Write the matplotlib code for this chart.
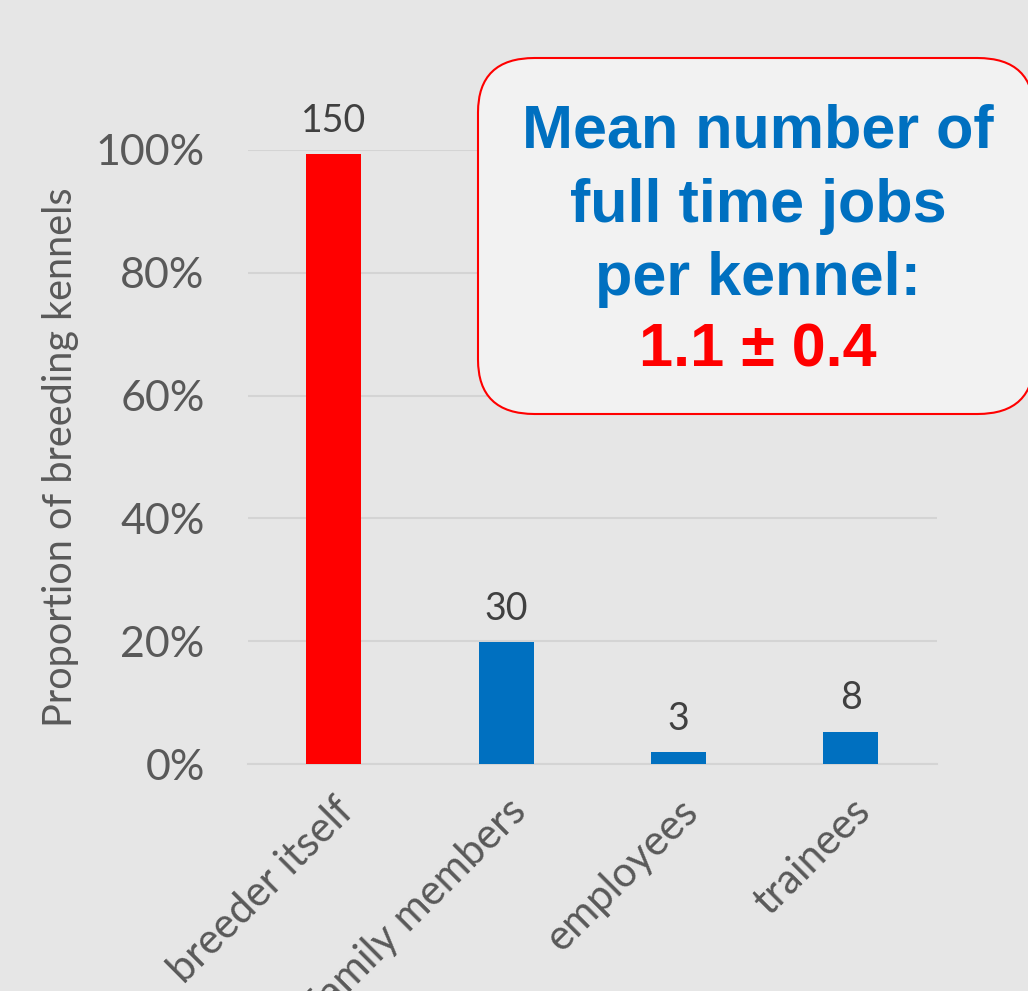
import matplotlib
matplotlib.use("Agg")
import matplotlib.pyplot as plt
from matplotlib.patches import FancyBboxPatch

# data
categories = ["breeder itself", "family members", "employees", "trainees"]
proportions = [0.993, 0.199, 0.020, 0.053]
counts = ["150", "30", "3", "8"]
bar_colors = ["#ff0000", "#0070c0", "#0070c0", "#0070c0"]
y_ticks = [0.0, 0.2, 0.4, 0.6, 0.8, 1.0]
y_tick_labels = ["0%", "20%", "40%", "60%", "80%", "100%"]
box_lines = "Mean number of\nfull time jobs\nper kennel:"
box_value = "1.1 \u00b1 0.4"

BG = "#e6e6e6"
FONT = "Lato"

fig = plt.figure(figsize=(10.28, 9.91), dpi=100, facecolor=BG)
ax = fig.add_axes([0.241, 0.229, 0.6705, 0.6197], facecolor=BG)

x = range(len(categories))
ax.bar(x, proportions, width=0.32, color=bar_colors, zorder=3)

for xi, p, c in zip(x, proportions, counts):
    ax.annotate(c, (xi, p), xytext=(0, 11), textcoords="offset points",
                ha="center", va="bottom", fontsize=27, color="#404040",
                family=FONT, annotation_clip=False)

ax.set_xlim(-0.5, 3.5)
ax.set_ylim(0, 1.0)
ax.set_yticks(y_ticks)
ax.set_yticklabels(y_tick_labels, fontsize=31, color="#595959", family=FONT)
ax.set_xticks(list(x))
ax.set_xticklabels(categories, rotation=45, ha="right", va="top",
                   rotation_mode="anchor", fontsize=30, color="#595959",
                   family=FONT)
ax.tick_params(axis="both", length=0)
ax.tick_params(axis="y", pad=31)
ax.tick_params(axis="x", pad=20)

ax.grid(axis="y", color="#d4d4d4", linewidth=1.5, zorder=0)
for s in ["top", "right", "left"]:
    ax.spines[s].set_visible(False)
ax.spines["bottom"].set_color("#d4d4d4")
ax.spines["bottom"].set_linewidth(1.5)

ax.set_ylabel("Proportion of breeding kennels", fontsize=28.5, color="#595959",
              family=FONT, labelpad=12)

# rounded annotation box
box = FancyBboxPatch((478 / 1028, 1 - 414 / 991), (1034 - 478) / 1028,
                     (414 - 58) / 991,
                     boxstyle="round,pad=0,rounding_size=0.055",
                     transform=fig.transFigure, facecolor="#f2f2f2",
                     edgecolor="#ff0000", linewidth=1.5, zorder=5)
fig.patches.append(box)

fig.text(758 / 1028, 1 - 104 / 991, box_lines, ha="center", va="top",
         fontsize=44, fontweight="bold", color="#0070c0",
         family="Liberation Sans", linespacing=1.38, zorder=6)
fig.text(758 / 1028, 1 - 351 / 991, box_value, ha="center", va="center",
         fontsize=44, fontweight="bold", color="#ff0000",
         family="Liberation Sans", zorder=6)

fig.savefig("out.png", dpi=100, facecolor=BG)
